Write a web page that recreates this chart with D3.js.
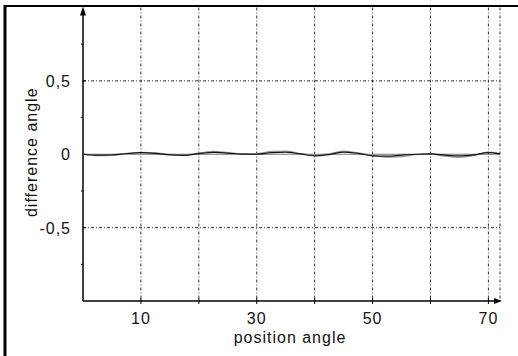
<!DOCTYPE html>
<html>
<head>
<meta charset="utf-8">
<script src="https://cdn.jsdelivr.net/npm/d3@7"></script>
<style>
  body { margin: 0; background: #fff; }
  text { font-family: "Liberation Sans", Arial, sans-serif; font-size: 16px; fill: #111; letter-spacing: 1px; }
</style>
</head>
<body>
<svg width="518" height="356"></svg>
<script>
// position angle samples
var positions = [0, 2.5, 5, 7.5, 10, 12.5, 15, 17.5, 20, 22.5, 25, 27.5, 30, 32.5, 35, 37.5,
                 40, 42.5, 45, 47.5, 50, 52.5, 55, 57.5, 60, 62.5, 65, 67.5, 70, 72];
// difference angle, black curve
var diffBlack = [0, -0.006, -0.005, 0.005, 0.011, 0.006, -0.004, -0.007, 0.004, 0.013, 0.008, 0.001,
                 0, 0.011, 0.014, 0.002, -0.011, -0.002, 0.015, 0.006, -0.011, -0.013, -0.006, 0,
                 0.002, -0.006, -0.011, -0.004, 0.011, 0.002];
// difference angle, grey curve
var diffGrey = [0, -0.01, -0.008, 0.003, 0.013, 0.01, -0.001, -0.005, 0.008, 0.019, 0.012, 0.003,
                0.004, 0.02, 0.022, 0.005, -0.006, 0.003, 0.021, 0.009, -0.007, -0.02, -0.016, -0.003,
                0.003, -0.013, -0.021, -0.009, 0.014, 0.004];
var yTicks = [-0.5, 0, 0.5];
var yLabels = ["-0,5", "0", "0,5"];
var yMinor = [-0.75, -0.25, 0.25, 0.75];
var xGrid = [10, 20, 30, 40, 50, 60, 70, 72];
var xLabels = [10, 30, 50, 70];

var svg = d3.select("svg");

// frame of the picture
svg.append("line").attr("x1", 5).attr("x2", 5).attr("y1", 5).attr("y2", 356)
   .attr("stroke", "#000").attr("stroke-width", 3);
svg.append("line").attr("x1", 4).attr("x2", 518).attr("y1", 6).attr("y2", 6)
   .attr("stroke", "#000").attr("stroke-width", 2);

var x = d3.scaleLinear().domain([0, 72]).range([83, 500]);
var y = d3.scaleLinear().domain([-1, 1]).range([301, 7.5]);

var dash = "3,2,1,2";

// grid
svg.selectAll(".vgrid").data(xGrid).enter().append("line")
   .attr("x1", function(d) { return x(d); }).attr("x2", function(d) { return x(d); })
   .attr("y1", y(1)).attr("y2", y(-1))
   .attr("stroke", "#333").attr("stroke-width", 1).attr("stroke-dasharray", dash);

svg.selectAll(".hgrid").data([-0.5, 0.5]).enter().append("line")
   .attr("x1", x(0)).attr("x2", x(72))
   .attr("y1", function(d) { return y(d); }).attr("y2", function(d) { return y(d); })
   .attr("stroke", "#333").attr("stroke-width", 1).attr("stroke-dasharray", dash);

svg.append("line").attr("x1", x(0)).attr("x2", x(72)).attr("y1", y(0)).attr("y2", y(0))
   .attr("stroke", "#777").attr("stroke-width", 1);

// axes
var yAxis = svg.append("g");
yAxis.append("line").attr("x1", x(0)).attr("x2", x(0)).attr("y1", y(-1)).attr("y2", y(1) + 2)
   .attr("stroke", "#000").attr("stroke-width", 1.5);
yAxis.append("path")
   .attr("d", "M" + x(0) + "," + (y(1) - 1) + "l-3,9l6,0z").attr("fill", "#000");
yAxis.selectAll(".minor").data(yMinor).enter().append("line")
   .attr("x1", x(0) - 2).attr("x2", x(0))
   .attr("y1", function(d) { return y(d); }).attr("y2", function(d) { return y(d); })
   .attr("stroke", "#000");
yAxis.selectAll(".major").data(yTicks).enter().append("line")
   .attr("x1", x(0)).attr("x2", x(0) + 3)
   .attr("y1", function(d) { return y(d); }).attr("y2", function(d) { return y(d); })
   .attr("stroke", "#000");
yAxis.selectAll(".lbl").data(yTicks).enter().append("text")
   .attr("x", 71).attr("y", function(d) { return y(d) + 6; })
   .attr("text-anchor", "end")
   .text(function(d, i) { return yLabels[i]; });

var xAxis = svg.append("g");
xAxis.append("line").attr("x1", x(0)).attr("x2", x(72)).attr("y1", y(-1)).attr("y2", y(-1))
   .attr("stroke", "#000").attr("stroke-width", 1.5);
xAxis.append("path")
   .attr("d", "M" + (x(72) + 2) + "," + y(-1) + "l-8,-3l0,6z").attr("fill", "#000");
xAxis.selectAll(".tick").data(xGrid.slice(0, 7)).enter().append("line")
   .attr("x1", function(d) { return x(d); }).attr("x2", function(d) { return x(d); })
   .attr("y1", y(-1) - 3).attr("y2", y(-1) + 3)
   .attr("stroke", "#000");
xAxis.selectAll(".lbl").data(xLabels).enter().append("text")
   .attr("x", function(d) { return x(d); }).attr("y", 324)
   .attr("text-anchor", "middle")
   .text(function(d) { return d; });

svg.append("text").attr("x", 290).attr("y", 343).attr("text-anchor", "middle")
   .text("position angle");
svg.append("text")
   .attr("transform", "translate(37," + (y(0) - 2) + ") rotate(-90)")
   .attr("text-anchor", "middle")
   .text("difference angle");

// curves
var line = d3.line()
   .x(function(d) { return x(d[0]); })
   .y(function(d) { return y(d[1]); })
   .curve(d3.curveMonotoneX);

svg.append("path").datum(d3.zip(positions, diffGrey))
   .attr("d", line).attr("fill", "none").attr("stroke", "#999").attr("stroke-width", 1.2);
svg.append("path").datum(d3.zip(positions, diffBlack))
   .attr("d", line).attr("fill", "none").attr("stroke", "#111").attr("stroke-width", 1.2);
</script>
</body>
</html>
